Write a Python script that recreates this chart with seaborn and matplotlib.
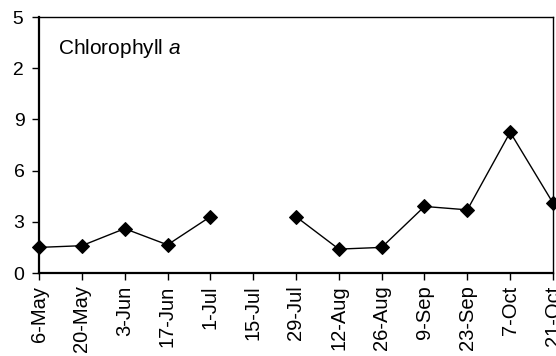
import numpy as np
import pandas as pd
import matplotlib
matplotlib.use("Agg")
import matplotlib.pyplot as plt
from matplotlib.transforms import Bbox, TransformedBbox
import seaborn as sns

# Sampling dates and chlorophyll a values (no sample on 15-Jul)
dates = ["6-May", "20-May", "3-Jun", "17-Jun", "1-Jul", "15-Jul", "29-Jul",
         "12-Aug", "26-Aug", "9-Sep", "23-Sep", "7-Oct", "21-Oct"]
chl_a = [1.5, 1.6, 2.6, 1.65, 3.3, np.nan, 3.3,
         1.4, 1.5, 3.9, 3.7, 8.25, 4.1]
y_ticks = [0, 3, 6, 9, 12, 15]
y_tick_labels = ["0", "3", "6", "9", "12", "15"]

df = pd.DataFrame({"pos": np.arange(len(dates)), "date": dates, "chl": chl_a})
# split the series where a sample is missing so the line breaks there
df["segment"] = df["chl"].isna().cumsum()
df = df.dropna(subset=["chl"])

sns.set_style("ticks")
plt.rcParams["font.family"] = ["Liberation Sans", "DejaVu Sans"]
plt.rcParams["mathtext.fontset"] = "custom"
plt.rcParams["mathtext.rm"] = "Liberation Sans"
plt.rcParams["mathtext.it"] = "Liberation Sans:italic"

fig = plt.figure(figsize=(5.56, 3.56), dpi=100)
ax = fig.add_axes([39 / 556, 83 / 356, 514 / 556, 256 / 356])

sns.lineplot(data=df, x="pos", y="chl", units="segment", estimator=None,
             color="black", linewidth=1.0, marker="D", markersize=7.5,
             markeredgecolor="black", markerfacecolor="black",
             ax=ax, legend=False, clip_on=False)

ax.set_xlim(0, len(dates) - 1)
ax.set_ylim(0, 15)
ax.set_xticks(np.arange(len(dates)))
ax.set_xticklabels(dates, rotation=90, fontsize=14.5)
ax.set_yticks(y_ticks)
ax.set_yticklabels(y_tick_labels, fontsize=14)
ax.set_xlabel("")
ax.set_ylabel("")
ax.tick_params(axis="both", direction="out", length=5, width=1, color="black",
               labelcolor="black")
ax.tick_params(axis="x", pad=4)
ax.tick_params(axis="y", pad=5.5)

for side in ["top", "right"]:
    ax.spines[side].set_visible(True)
    ax.spines[side].set_linewidth(1.0)
for side in ["left", "bottom"]:
    ax.spines[side].set_linewidth(1.6)
for sp in ax.spines.values():
    sp.set_color("black")

ax.text(0.037, 0.875, "Chlorophyll $a$", transform=ax.transAxes,
        fontsize=15, color="black", ha="left", va="center")

# the left margin is narrow: two-digit labels lose their leading digit
fig.canvas.draw()
clip = TransformedBbox(Bbox([[12.8 / 556, 0], [1, 1]]), fig.transFigure)
for lbl in ax.get_yticklabels():
    lbl.set_clip_box(clip)
    lbl.set_clip_on(True)

fig.savefig("out.png", dpi=100)
